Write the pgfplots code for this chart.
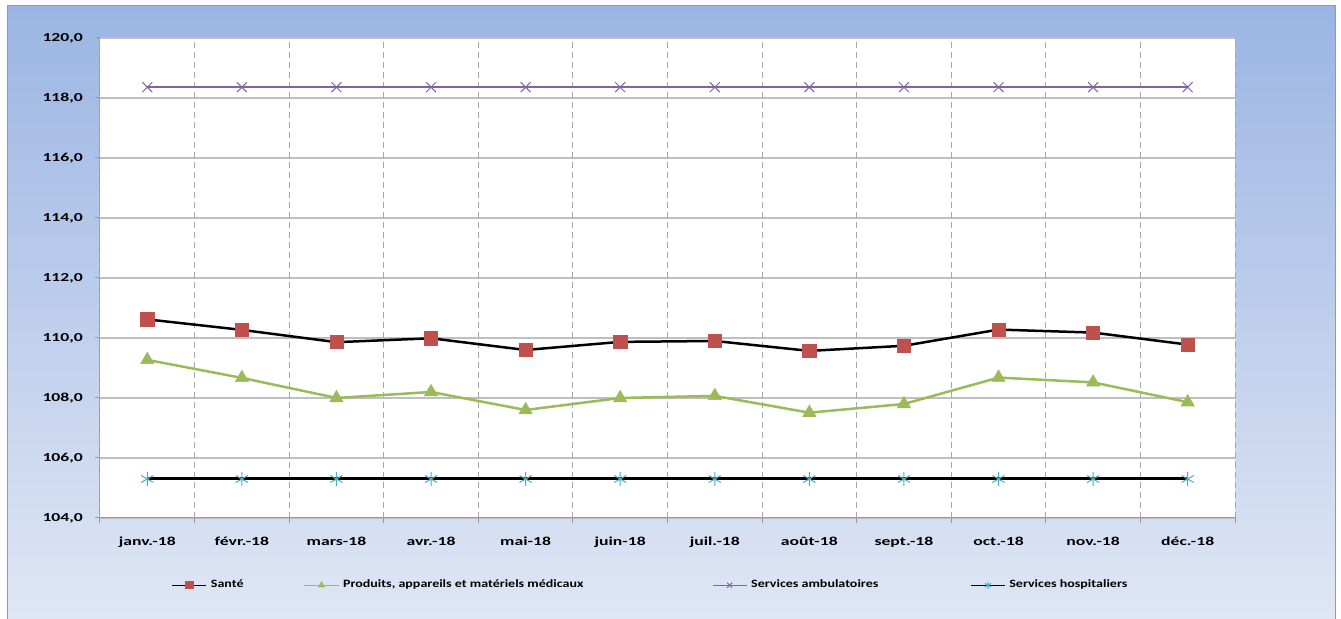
\documentclass[border=0pt]{standalone}
\usepackage{pgfplots}
\pgfplotsset{compat=1.18}
\usepackage{fontspec}
\setmainfont{Carlito}
\usepackage{graphicx}

\definecolor{sante}{HTML}{C0504D}
\definecolor{prodgreen}{HTML}{9BBB59}
\definecolor{ambpurple}{HTML}{8064A2}
\definecolor{hospcyan}{HTML}{4BACC6}
\definecolor{gridh}{HTML}{BFBFBF}
\definecolor{gridv}{HTML}{A6A6A6}
\definecolor{bgtop}{RGB}{155,181,227}
\definecolor{bgbot}{RGB}{224,231,245}

% Excel output is stretched sideways, so stretch the text the same way
\newcommand\w[1]{\scalebox{1.45}[1]{#1}}
\newcommand\lw[1]{\scalebox{1.25}[1]{#1}}

\begin{document}
\begin{tikzpicture}
\path[use as bounding box] (0,0) rectangle (670.5pt,309.5pt);
\shade[top color=bgtop, bottom color=bgbot, draw=gray!80, line width=0.5pt]
  (3.5pt,-2pt) rectangle (667.5pt,306.5pt);

\begin{axis}[
  at={(50pt,50.5pt)}, anchor=south west,
  scale only axis,
  width=567.5pt, height=240pt,
  xmin=-0.5, xmax=11.5,
  ymin=104, ymax=120,
  axis lines=left,
  axis line style={-, draw=gray!80, line width=0.5pt},
  axis background/.style={fill=white},
  tick align=outside,
  major tick length=2.5pt,
  xtick={0,...,11},
  xticklabels={{\w{janv.-18}},{\w{févr.-18}},{\w{mars-18}},{\w{avr.-18}},{\w{mai-18}},{\w{juin-18}},
    {\w{juil.-18}},{\w{août-18}},{\w{sept.-18}},{\w{oct.-18}},{\w{nov.-18}},{\w{déc.-18}}},
  xtick style={draw=none},
  extra x ticks={-0.5,0.5,...,11.5},
  extra x tick labels={},
  extra x tick style={grid=major, xtick style={draw=gray!80, line width=0.5pt}},
  major x grid style={densely dashed, gridv, line width=0.5pt},
  ytick={104,106,...,120},
  ytick style={draw=gray!80, line width=0.5pt},
  ymajorgrids,
  major y grid style={gridh, line width=0.6pt},
  yticklabel={\w{\pgfmathprintnumber{\tick}}},
  /pgf/number format/.cd, fixed, zerofill, precision=1, use comma, assume math mode=true,
  /pgfplots/.cd,
  tick label style={font=\bfseries\fontsize{6.1}{7}\selectfont, black},
  x tick label style={yshift=-3.5pt},
  y tick label style={xshift=-2.5pt},
  legend columns=4,
  legend style={draw=none, fill=none, at={(0.486,-0.14)}, anchor=center,
    font=\bfseries\fontsize{5.6}{7}\selectfont},
  legend image post style={line width=0.5pt, mark size=1.8pt},
]
\addplot[black, line width=1.25pt, mark=square*, mark size=3.3pt,
  mark options={fill=sante, draw=sante, line width=0.3pt}] coordinates {
  (0,110.62) (1,110.27) (2,109.86) (3,109.99) (4,109.60) (5,109.87)
  (6,109.90) (7,109.57) (8,109.74) (9,110.28) (10,110.18) (11,109.78)
};
\addlegendentry{\makebox[44.5pt][l]{\lw{Santé}}}
\addplot[prodgreen, line width=1.25pt, mark=triangle*, mark size=3.8pt,
  mark options={fill=prodgreen, draw=prodgreen, line width=0.3pt}] coordinates {
  (0,109.27) (1,108.67) (2,108.00) (3,108.20) (4,107.60) (5,108.00)
  (6,108.07) (7,107.51) (8,107.80) (9,108.68) (10,108.52) (11,107.86)
};
\addlegendentry{\makebox[182.5pt][l]{\lw{Produits, appareils et matériels médicaux}}}
\addplot[ambpurple, line width=1.25pt, mark=x, mark size=3.5pt,
  mark options={ambpurple, line width=0.5pt}] coordinates {
  (0,118.36) (1,118.36) (2,118.36) (3,118.36) (4,118.36) (5,118.36)
  (6,118.36) (7,118.36) (8,118.36) (9,118.36) (10,118.36) (11,118.36)
};
\addlegendentry{\makebox[107.5pt][l]{\lw{Services ambulatoires}}}
\addplot[black, line width=1.5pt, mark=asterisk, mark size=3.5pt,
  mark options={hospcyan, line width=0.5pt}] coordinates {
  (0,105.30) (1,105.30) (2,105.30) (3,105.30) (4,105.30) (5,105.30)
  (6,105.30) (7,105.30) (8,105.30) (9,105.30) (10,105.30) (11,105.30)
};
\addlegendentry{\lw{Services hospitaliers}}
\end{axis}
\end{tikzpicture}
\end{document}
